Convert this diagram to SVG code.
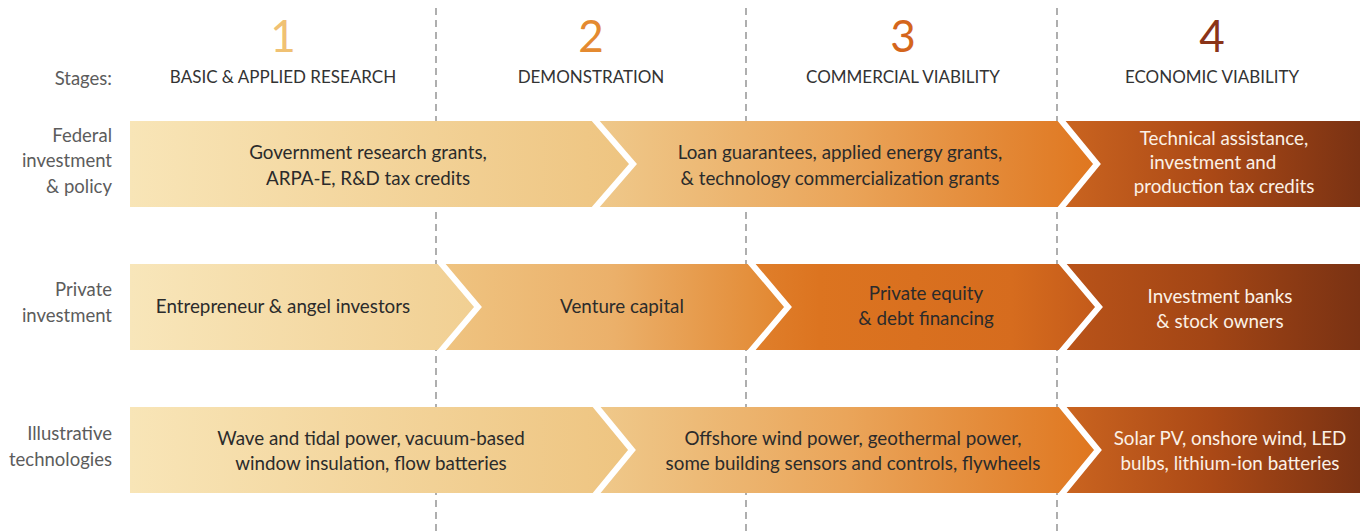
<svg xmlns="http://www.w3.org/2000/svg" width="1360" height="531" viewBox="0 0 1360 531">
  <defs>
    <style>
      .num { font-family: Lato, "Open Sans", sans-serif; font-weight: 400; font-size: 44px; text-anchor: middle; }
      .stage { font-family: Lato, "Open Sans", sans-serif; font-size: 17px; fill: #333333; text-anchor: middle; }
      .side { font-family: Lato, "Open Sans", sans-serif; font-size: 18.5px; fill: #5c5c5c; text-anchor: end; }
      .dark { font-family: Lato, "Open Sans", sans-serif; font-size: 18.8px; fill: #2b2b2b; text-anchor: middle; }
      .light { font-family: Lato, "Open Sans", sans-serif; font-size: 18.8px; fill: #fbf1e6; text-anchor: middle; }
      .divider { stroke: #7a7a7a; stroke-width: 1.2; stroke-dasharray: 7 5; fill: none; }
      .gap { stroke: #ffffff; stroke-width: 6; fill: none; stroke-linejoin: miter; }
    </style>
    <!-- segment fills: each band has its own left-to-right ramp -->
    <linearGradient id="g-r1a" x1="0" y1="0" x2="1" y2="0">
      <stop offset="0" stop-color="#f8e5b7"/>
      <stop offset="1" stop-color="#eec480"/>
    </linearGradient>
    <linearGradient id="g-r1b" x1="0" y1="0" x2="1" y2="0">
      <stop offset="0" stop-color="#efc98b"/>
      <stop offset="0.5" stop-color="#eaa55a"/>
      <stop offset="1" stop-color="#df761f"/>
    </linearGradient>
    <linearGradient id="g-end" x1="0" y1="0" x2="1" y2="0">
      <stop offset="0" stop-color="#cb6520"/>
      <stop offset="0.5" stop-color="#ab4916"/>
      <stop offset="1" stop-color="#7a3213"/>
    </linearGradient>
    <linearGradient id="g-r2a" x1="0" y1="0" x2="1" y2="0">
      <stop offset="0" stop-color="#f8e6ba"/>
      <stop offset="1" stop-color="#f1cf92"/>
    </linearGradient>
    <linearGradient id="g-r2b" x1="0" y1="0" x2="1" y2="0">
      <stop offset="0" stop-color="#efc481"/>
      <stop offset="0.5" stop-color="#ebb06a"/>
      <stop offset="1" stop-color="#e2862f"/>
    </linearGradient>
    <linearGradient id="g-r2c" x1="0" y1="0" x2="1" y2="0">
      <stop offset="0" stop-color="#e0802c"/>
      <stop offset="0.2" stop-color="#dc7420"/>
      <stop offset="0.75" stop-color="#d66c1e"/>
      <stop offset="1" stop-color="#c35a1a"/>
    </linearGradient>
    <linearGradient id="g-r2d" x1="0" y1="0" x2="1" y2="0">
      <stop offset="0" stop-color="#ba5419"/>
      <stop offset="0.5" stop-color="#a24515"/>
      <stop offset="1" stop-color="#7a3213"/>
    </linearGradient>
  </defs>

  <rect width="1360" height="531" fill="#ffffff"/>

  <!-- stage dividers -->
  <g id="dividers">
    <line class="divider" x1="436" y1="8" x2="436" y2="531"/>
    <line class="divider" x1="746" y1="8" x2="746" y2="531"/>
    <line class="divider" x1="1057" y1="8" x2="1057" y2="531"/>
  </g>

  <!-- stage headings -->
  <g id="stages">
    <text class="side" x="112" y="85">Stages:</text>
    <g id="stage-1">
      <text class="num" x="283" y="52" fill="#f0c173">1</text>
      <text class="stage" x="283" y="83">BASIC &amp; APPLIED RESEARCH</text>
    </g>
    <g id="stage-2">
      <text class="num" x="591" y="52" fill="#e48a30">2</text>
      <text class="stage" x="591" y="83">DEMONSTRATION</text>
    </g>
    <g id="stage-3">
      <text class="num" x="903" y="52" fill="#d4661c">3</text>
      <text class="stage" x="903" y="83">COMMERCIAL VIABILITY</text>
    </g>
    <g id="stage-4">
      <text class="num" x="1212" y="52" fill="#8a3418">4</text>
      <text class="stage" x="1212" y="83">ECONOMIC VIABILITY</text>
    </g>
  </g>

  <!-- row 1: federal investment & policy -->
  <g id="row-federal">
    <text class="side" x="112" y="142">Federal</text>
    <text class="side" x="112" y="167">investment</text>
    <text class="side" x="112" y="193">&amp; policy</text>
    <g id="federal-grants">
      <polygon points="130,121 594,121 633,164 594,207 130,207" fill="url(#g-r1a)"/>
      <text class="dark" x="368" y="159">Government research grants,</text>
      <text class="dark" x="368" y="185">ARPA-E, R&amp;D tax credits</text>
    </g>
    <g id="federal-loans">
      <polygon points="594,121 1060,121 1097,164 1060,207 594,207 633,164" fill="url(#g-r1b)"/>
      <text class="dark" x="840" y="159">Loan guarantees, applied energy grants,</text>
      <text class="dark" x="840" y="185">&amp; technology commercialization grants</text>
    </g>
    <g id="federal-credits">
      <polygon points="1060,121 1360,121 1360,207 1060,207 1097,164" fill="url(#g-end)"/>
      <text class="light" x="1224" y="145">Technical assistance,</text>
      <text class="light" x="1213" y="169">investment and</text>
      <text class="light" x="1224" y="193">production tax credits</text>
    </g>
  </g>

  <!-- row 2: private investment -->
  <g id="row-private">
    <text class="side" x="112" y="296">Private</text>
    <text class="side" x="112" y="322">investment</text>
    <g id="private-angel">
      <polygon points="130,264 440,264 478,307 440,350 130,350" fill="url(#g-r2a)"/>
      <text class="dark" x="283" y="313">Entrepreneur &amp; angel investors</text>
    </g>
    <g id="private-venture">
      <polygon points="440,264 750,264 788,307 750,350 440,350 478,307" fill="url(#g-r2b)"/>
      <text class="dark" x="622" y="313">Venture capital</text>
    </g>
    <g id="private-equity">
      <polygon points="750,264 1061,264 1099,307 1061,350 750,350 788,307" fill="url(#g-r2c)"/>
      <text class="dark" x="926" y="300">Private equity</text>
      <text class="dark" x="926" y="325">&amp; debt financing</text>
    </g>
    <g id="private-banks">
      <polygon points="1061,264 1360,264 1360,350 1061,350 1099,307" fill="url(#g-r2d)"/>
      <text class="light" x="1220" y="303">Investment banks</text>
      <text class="light" x="1220" y="328">&amp; stock owners</text>
    </g>
  </g>

  <!-- row 3: illustrative technologies -->
  <g id="row-tech">
    <text class="side" x="112" y="440">Illustrative</text>
    <text class="side" x="112" y="466">technologies</text>
    <g id="tech-early">
      <polygon points="130,407 595,407 632,450 595,493 130,493" fill="url(#g-r1a)"/>
      <text class="dark" x="371" y="445">Wave and tidal power, vacuum-based</text>
      <text class="dark" x="371" y="470">window insulation, flow batteries</text>
    </g>
    <g id="tech-mid">
      <polygon points="595,407 1061,407 1098,450 1061,493 595,493 632,450" fill="url(#g-r1b)"/>
      <text class="dark" x="853" y="445">Offshore wind power, geothermal power,</text>
      <text class="dark" x="853" y="470">some building sensors and controls, flywheels</text>
    </g>
    <g id="tech-mature">
      <polygon points="1061,407 1360,407 1360,493 1061,493 1098,450" fill="url(#g-end)"/>
      <text class="light" x="1230" y="445">Solar PV, onshore wind, LED</text>
      <text class="light" x="1230" y="470">bulbs, lithium-ion batteries</text>
    </g>
  </g>

  <!-- white chevron separators between bands -->
  <g id="connectors">
    <polyline class="gap" points="594,119 633,164 594,209"/>
    <polyline class="gap" points="1060,119 1097,164 1060,209"/>
    <polyline class="gap" points="440,262 478,307 440,352"/>
    <polyline class="gap" points="750,262 788,307 750,352"/>
    <polyline class="gap" points="1061,262 1099,307 1061,352"/>
    <polyline class="gap" points="595,405 632,450 595,495"/>
    <polyline class="gap" points="1061,405 1098,450 1061,495"/>
  </g>
</svg>
